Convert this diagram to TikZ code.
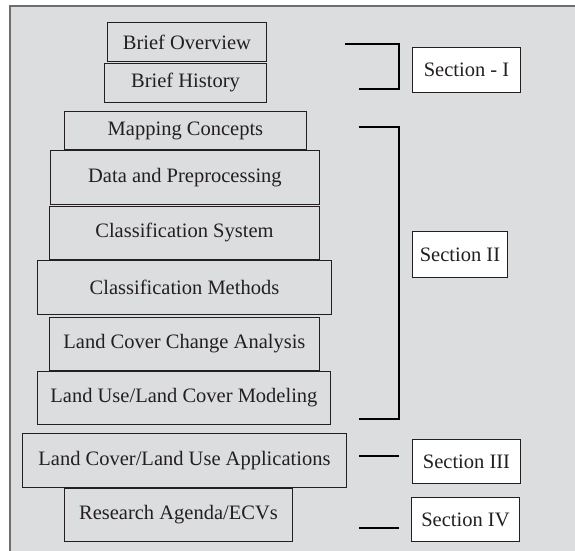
\documentclass[tikz,border=0pt]{standalone}
\usepackage{fontspec}
\setmainfont{Liberation Serif}
\usepackage{xcolor}
\usepackage{tikz}

\definecolor{panelgray}{RGB}{220,221,223}
\definecolor{framegray}{RGB}{110,110,110}
\definecolor{inkgray}{RGB}{35,31,32}

\tikzset{
  layer/.style={draw=inkgray, fill=panelgray, line width=0.9pt, anchor=north west, inner sep=0pt, text=inkgray, font=\fontsize{20.5}{24}\selectfont},
  secbox/.style={draw=inkgray, fill=white, line width=0.9pt, anchor=north west, inner sep=0pt, text=inkgray, font=\fontsize{20.5}{24}\selectfont},
  brace/.style={draw=black, line width=1.5pt}
}

\begin{document}
\begin{tikzpicture}[x=1pt,y=1pt,yscale=-1,xscale=1]
\clip (0,0) rectangle (575,550);

%Shape: Panel [id:frame]
\draw [draw=framegray, fill=panelgray, line width=1.2pt] (10,6) rectangle (600,580);

% Layer Nodes
\node [layer, minimum width=159pt, minimum height=39pt] (ov) at (107,22) {Brief Overview};
\node [layer, minimum width=162pt, minimum height=39pt] (hist) at (104,63) {Brief History};
\node [layer, minimum width=242pt, minimum height=38pt] (map) at (64,111) {Mapping Concepts};
\node [layer, minimum width=269pt, minimum height=54pt] (data) at (50,150) {Data and Preprocessing};
\node [layer, minimum width=270pt, minimum height=53pt] (csys) at (49,206) {Classification System};
\node [layer, minimum width=294pt, minimum height=54pt] (cmeth) at (37,260) {Classification Methods};
\node [layer, minimum width=270pt, minimum height=53pt] (chg) at (49,317) {Land Cover Change Analysis};
\node [layer, minimum width=293pt, minimum height=53pt] (model) at (37,371) {Land Use/Land Cover Modeling};
\node [layer, minimum width=324pt, minimum height=54pt] (appl) at (22,433) {Land Cover/Land Use Applications};
\node [layer, minimum width=228pt, minimum height=53pt] (agenda) at (64,488) {Research Agenda/ECVs};

% Section Nodes
\node [secbox, minimum width=108pt, minimum height=45pt] (s1) at (412,47) {Section - I};
\node [secbox, minimum width=95pt, minimum height=46pt] (s2) at (412,231) {Section II};
\node [secbox, minimum width=108pt, minimum height=44pt] (s3) at (412,439) {Section III};
\node [secbox, minimum width=108pt, minimum height=44pt] (s4) at (411,497) {Section IV};

% Bracket ends
\coordinate (b1a) at (345,44);
\coordinate (b1b) at (359,89);
\coordinate (b2a) at (359,127);
\coordinate (b2b) at (359,419);
\coordinate (b3a) at (359,456);
\coordinate (b4a) at (359,528);

%Straight Lines [id:brackets]
\draw [brace] (b1a) -- ++(54,0) |- (b1b);
\draw [brace] (b2a) -- ++(40,0) |- (b2b);
\draw [brace] (b3a) -- ++(40,0);
\draw [brace] (b4a) -- ++(40,0);

\end{tikzpicture}
\end{document}
